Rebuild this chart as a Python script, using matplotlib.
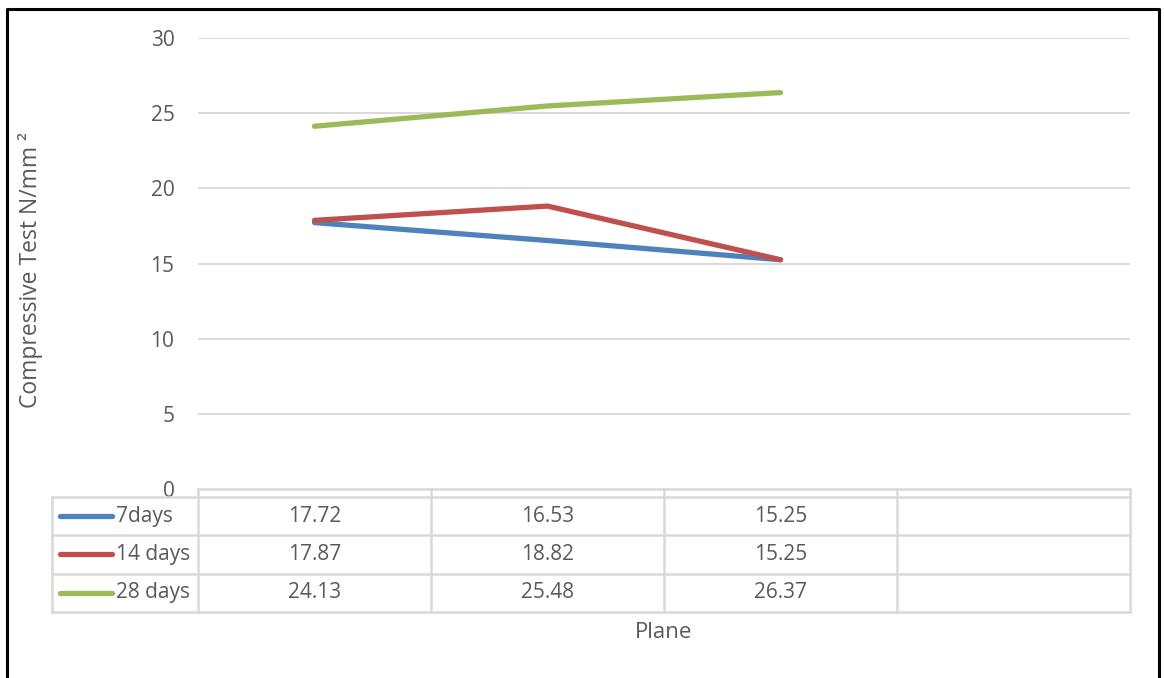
import numpy as np
import matplotlib.pyplot as plt
from matplotlib.lines import Line2D

plt.rcParams['font.family'] = ['Open Sans', 'DejaVu Sans']

# Compressive strength for each curing period
categories = ["", "", "", ""]
series_names = ["7days", "14 days", "28 days"]
days_7 = [17.72, 16.53, 15.25]
days_14 = [17.87, 18.82, 15.25]
days_28 = [24.13, 25.48, 26.37]
series_colors = ["#4F81BD", "#C0504D", "#9BBB59"]
y_ticks = [0, 5, 10, 15, 20, 25, 30]

text_gray = "#595959"
grid_gray = "#D9D9D9"

W, H = 1164, 678
fig = plt.figure(figsize=(W / 100, H / 100), dpi=100)
fig.patch.set_facecolor("white")

# plot area in pixel coordinates
left, right, top, bottom = 198, 1130, 38, 489
ax = fig.add_axes([left / W, 1 - bottom / H, (right - left) / W, (bottom - top) / H])
ax.set_xlim(-0.5, len(categories) - 0.5)
ax.set_ylim(0, 30)
for s in ax.spines.values():
    s.set_visible(False)
ax.set_xticks([])
ax.set_yticks(y_ticks)
ax.tick_params(axis="y", length=0, pad=17, labelsize=15, labelcolor=text_gray)
for y in y_ticks[1:]:
    ax.axhline(y, color=grid_gray, lw=1.4, zorder=0)

all_series = [days_7, days_14, days_28]
for vals, c in zip(all_series, series_colors):
    ax.plot(np.arange(len(vals)), vals, color=c, lw=3.8,
            solid_capstyle="round", solid_joinstyle="round", zorder=3)

# data table below the axis, drawn in figure pixels
def fx(px):
    return px / W

def fy(py):
    return 1 - py / H

table_left = 52
header_top, header_bot = 489, 497
row_h = 38.3
rows_bottom = header_bot + row_h * len(series_names)
col_edges = [left + i * (right - left) / len(categories) for i in range(len(categories) + 1)]

def hline(x0, x1, y):
    fig.add_artist(Line2D([fx(x0), fx(x1)], [fy(y), fy(y)], color=grid_gray, lw=1.8))

def vline(x, y0, y1):
    fig.add_artist(Line2D([fx(x), fx(x)], [fy(y0), fy(y1)], color=grid_gray, lw=1.8))

hline(left, right, header_top)
for i in range(len(series_names) + 1):
    hline(table_left, right, header_bot + i * row_h)
vline(table_left, header_bot, rows_bottom)
for x in col_edges:
    vline(x, header_top, rows_bottom)

for i, (name, vals, c) in enumerate(zip(series_names, all_series, series_colors)):
    yc = header_bot + (i + 0.5) * row_h
    fig.add_artist(Line2D([fx(60), fx(112)], [fy(yc), fy(yc)], color=c, lw=3.8,
                          solid_capstyle="round"))
    fig.text(fx(116), fy(yc), name, fontsize=15, color=text_gray, va="center", ha="left")
    for j, v in enumerate(vals):
        xc = (col_edges[j] + col_edges[j + 1]) / 2
        fig.text(fx(xc), fy(yc), f"{v:.2f}", fontsize=15, color=text_gray,
                 va="center", ha="center")

# axis titles
fig.text(fx(31), fy(270), "Compressive Test N/mm ²", fontsize=16.5, color=text_gray,
         rotation=90, ha="center", va="center")
fig.text(fx((left + right) / 2), fy(633), "Plane", fontsize=16, color=text_gray,
         ha="center", va="center")

# outer frame (open at the bottom)
fig.add_artist(Line2D([fx(7), fx(7), fx(1159), fx(1159)],
                      [fy(H + 2), fy(9), fy(9), fy(H + 2)], color="black", lw=2.2))

fig.savefig("out.png", dpi=100, facecolor="white")
